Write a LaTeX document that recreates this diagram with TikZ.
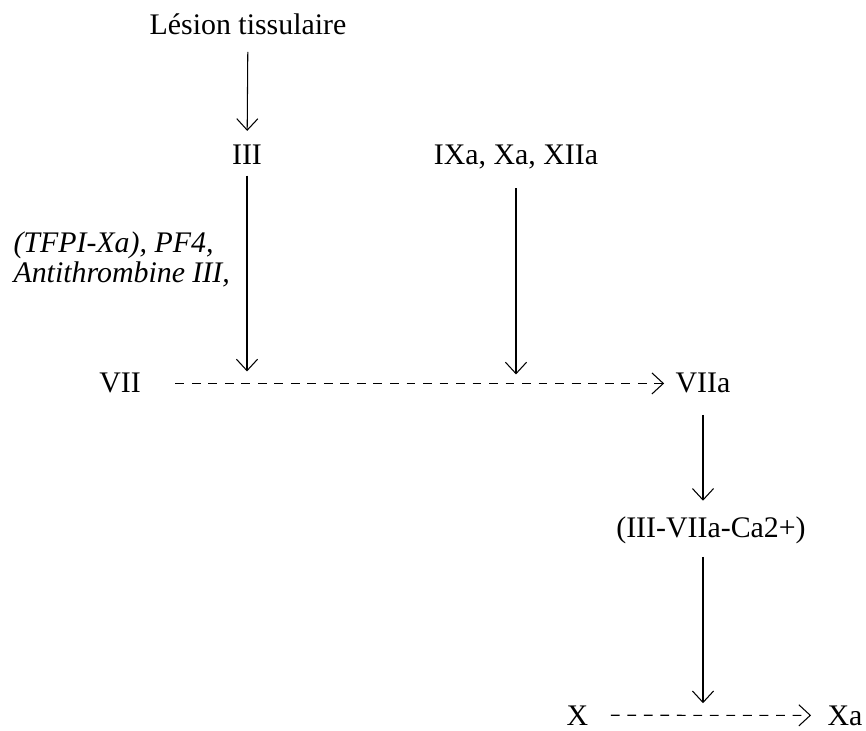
\documentclass[tikz,border=0pt]{standalone}
\usepackage{fontspec}
\setmainfont{Liberation Serif}
\usepackage{tikz}
\usetikzlibrary{arrows.meta}

\begin{document}
\begin{tikzpicture}[>={Straight Barb[length=6.5pt,width=12pt]}, line width=0.6pt,
    every node/.style={font=\fontsize{17}{17}\selectfont, inner sep=0pt}]
      \useasboundingbox (0,0) rectangle (17.32,-14.62);
      \node[anchor=base] (lesion) at (4.96,-0.70) {Lésion tissulaire};
      \node[anchor=base] (tf) at (4.94,-3.30) {III};
      \node[anchor=base] (ixa) at (10.32,-3.30) {IXa, Xa, XIIa};
      \node[anchor=west, align=left, font=\fontsize{17}{17}\selectfont\itshape] (inhib) at (0.26,-5.19) {(TFPI-Xa), PF4,\\ Antithrombine III,};
      \node[anchor=base] (vii) at (2.40,-7.86) {VII};
      \node[anchor=base] (viia) at (14.06,-7.86) {VIIa};
      \node[anchor=base] (cpx) at (14.22,-10.76) {(III-VIIa-Ca2+)};
      \node[anchor=base] (x) at (11.55,-14.50) {X};
      \node[anchor=base] (xa) at (16.90,-14.50) {Xa};
      \draw[->, shorten <=0.32cm, shorten >=0.28cm] (lesion) -- (tf);
      \draw[->, shorten <=0.2cm, shorten >=0.24cm] (tf) -- (tf |- vii);
      \draw[->, shorten <=0.36cm, shorten >=0.18cm] (ixa) -- (ixa |- vii);
      \draw[->, dash pattern=on 5pt off 4.4pt, shorten <=0.68cm, shorten >=0.22cm] (vii) -- (viia);
      \draw[->, shorten <=0.42cm, shorten >=0.32cm] (viia) -- (viia |- cpx.north);
      \draw[->, shorten <=0.24cm, shorten >=0.24cm] (cpx.south -| viia) -- (viia |- x);
      \draw[->, dash pattern=on 5pt off 4.4pt, shorten <=0.44cm, shorten >=0.32cm] (x) -- (xa);
    \end{tikzpicture}
\end{document}
